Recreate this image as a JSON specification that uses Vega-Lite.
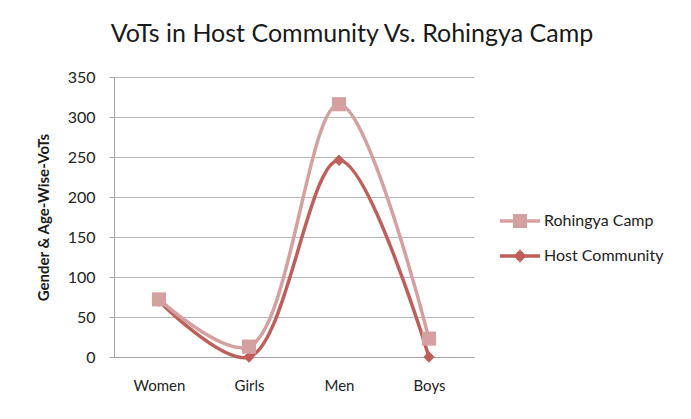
{
  "$schema": "https://vega.github.io/schema/vega-lite/v6.json",
  "width": 360,
  "height": 280,
  "autosize": "none",
  "padding": {"left": 114, "top": 77, "right": 217, "bottom": 62},
  "background": "white",
  "title": {
    "text": "VoTs in Host Community Vs. Rohingya Camp",
    "font": "Lato",
    "fontSize": 25,
    "fontWeight": "normal",
    "color": "#1a1a1a",
    "anchor": "middle",
    "frame": "group",
    "dx": 58,
    "offset": 22
  },
  "config": {
    "view": {"stroke": null},
    "font": "Lato"
  },
  "data": {
    "values": [
      {"category": "Women", "series": "Host Community", "value": 70},
      {"category": "Girls", "series": "Host Community", "value": 0},
      {"category": "Men", "series": "Host Community", "value": 246},
      {"category": "Boys", "series": "Host Community", "value": 0},
      {"category": "Women", "series": "Rohingya Camp", "value": 72},
      {"category": "Girls", "series": "Rohingya Camp", "value": 13},
      {"category": "Men", "series": "Rohingya Camp", "value": 316},
      {"category": "Boys", "series": "Rohingya Camp", "value": 23}
    ]
  },
  "encoding": {
    "x": {
      "field": "category",
      "type": "nominal",
      "sort": ["Women", "Girls", "Men", "Boys"],
      "scale": {"type": "point", "padding": 0.5},
      "axis": {
        "title": null,
        "labelAngle": 0,
        "labelFont": "Lato",
        "labelFontSize": 15,
        "labelColor": "#222222",
        "labelPadding": 21,
        "ticks": false,
        "domain": true,
        "domainColor": "#A0A4AA",
        "grid": false
      }
    },
    "y": {
      "field": "value",
      "type": "quantitative",
      "scale": {"domain": [0, 350], "nice": false},
      "axis": {
        "title": "Gender & Age-Wise-VoTs",
        "titleFont": "Lato",
        "titleFontSize": 15,
        "titleFontWeight": "bold",
        "titleColor": "#1a1a1a",
        "titlePadding": 16,
        "values": [0, 50, 100, 150, 200, 250, 300, 350],
        "labelFont": "Lato",
        "labelFontSize": 16,
        "labelColor": "#222222",
        "labelPadding": 14,
        "tickSize": 5,
        "tickColor": "#A0A4AA",
        "domainColor": "#A0A4AA",
        "gridColor": "#B4B8BE",
        "grid": true
      }
    },
    "color": {
      "field": "series",
      "type": "nominal",
      "scale": {
        "domain": ["Rohingya Camp", "Host Community"],
        "range": ["#D5A0A0", "#BE5F5B"]
      },
      "legend": {
        "title": null,
        "orient": "none",
        "legendX": 386,
        "legendY": 124,
        "symbolSize": 1600,
        "symbolStrokeWidth": 0,
        "symbolOpacity": 1,
        "rowPadding": 7,
        "labelFont": "Lato",
        "labelFontSize": 16,
        "labelColor": "#222222",
        "labelOffset": 4,
        "encode": {
          "symbols": {
            "update": {
              "shape": {"signal": "datum.value == 'Rohingya Camp' ? 'M-1,-0.09H1V0.09H-1Z M-0.35,-0.35H0.35V0.35H-0.35Z' : 'M-1,-0.09H1V0.09H-1Z M0,-0.33L0.33,0L0,0.33L-0.33,0Z'"},
              "size": {"value": 1600},
              "strokeWidth": {"value": 0},
              "fillOpacity": {"value": 1}
            }
          }
        }
      }
    }
  },
  "layer": [
    {
      "mark": {"type": "line", "interpolate": "catmull-rom", "strokeWidth": 3.5},
      "encoding": {
        "order": {"field": "series", "sort": "ascending"}
      }
    },
    {
      "transform": [{"filter": "datum.series == 'Host Community'"}],
      "mark": {"type": "point", "filled": true, "opacity": 1, "shape": "diamond", "size": 130}
    },
    {
      "transform": [{"filter": "datum.series == 'Rohingya Camp'"}],
      "mark": {"type": "point", "filled": true, "opacity": 1, "shape": "square", "size": 200}
    }
  ]
}
